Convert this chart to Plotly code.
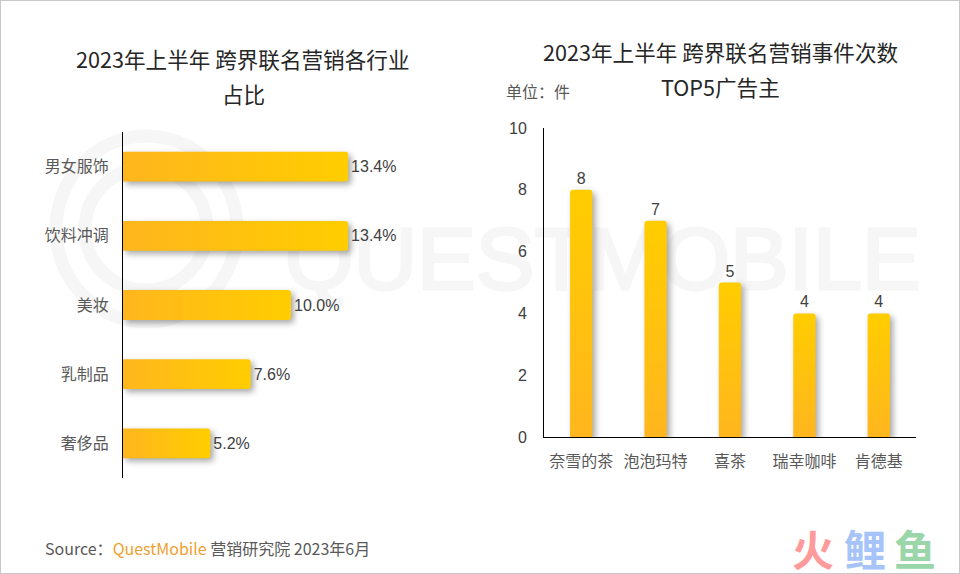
import plotly.graph_objects as go

# left chart
industries = ["男女服饰", "饮料冲调", "美妆", "乳制品", "奢侈品"]
industry_share = [13.4, 13.4, 10.0, 7.6, 5.2]
industry_labels = ["13.4%", "13.4%", "10.0%", "7.6%", "5.2%"]

# right chart
advertisers = ["奈雪的茶", "泡泡玛特", "喜茶", "瑞幸咖啡", "肯德基"]
event_counts = [8, 7, 5, 4, 4]
count_ticks = [0, 2, 4, 6, 8, 10]

CJK = "Noto Sans CJK SC"
LATIN = "Liberation Sans"
W, H = 960, 574


def px_x(x):
    return x / W


def px_y(y):
    return 1 - y / H


fig = go.Figure()

fig.add_trace(go.Bar(
    x=industry_share, y=industries, orientation="h", xaxis="x", yaxis="y",
    width=0.43, marker=dict(color="#ffc010", line_width=0),
    text=industry_labels, textposition="outside", cliponaxis=False,
    textfont=dict(family=LATIN, size=16, color="#404040"),
))
fig.add_trace(go.Bar(
    x=advertisers, y=event_counts, xaxis="x2", yaxis="y2",
    width=0.3, marker=dict(color="#ffc010", line_width=0),
    text=event_counts, textposition="outside", cliponaxis=False,
    textfont=dict(family=LATIN, size=16, color="#404040"),
))

notes = [
    dict(text="QUESTMOBILE", x=px_x(603), y=px_y(258), xanchor="center", yanchor="middle",
         font=dict(family=LATIN, size=88, color="#f6f6f6")),
    dict(text="2023年上半年 跨界联名营销各行业", x=px_x(243), y=px_y(58), xanchor="center", yanchor="middle",
         font=dict(family=CJK, size=21.6, color="#262626")),
    dict(text="占比", x=px_x(243), y=px_y(94), xanchor="center", yanchor="middle",
         font=dict(family=CJK, size=21.6, color="#262626")),
    dict(text="2023年上半年 跨界联名营销事件次数", x=px_x(720), y=px_y(51), xanchor="center", yanchor="middle",
         font=dict(family=CJK, size=21.6, color="#262626")),
    dict(text="TOP5广告主", x=px_x(720), y=px_y(87), xanchor="center", yanchor="middle",
         font=dict(family=CJK, size=21.6, color="#262626")),
    dict(text="单位：件", x=px_x(504), y=px_y(91), xanchor="left", yanchor="middle",
         font=dict(family=CJK, size=16, color="#595959")),
    dict(text='Source：<span style="color:#f0a030">QuestMobile</span> 营销研究院 2023年6月',
         x=px_x(43), y=px_y(548), xanchor="left", yanchor="middle",
         font=dict(family=CJK, size=16, color="#595959")),
    dict(text="<b>火</b>", x=px_x(813), y=px_y(547), xanchor="center", yanchor="middle",
         font=dict(family=CJK, size=42, color="#ff9a9a")),
    dict(text="<b>鲤</b>", x=px_x(865), y=px_y(547), xanchor="center", yanchor="middle",
         font=dict(family=CJK, size=42, color="#a6c3fa")),
    dict(text="<b>鱼</b>", x=px_x(915), y=px_y(547), xanchor="center", yanchor="middle",
         font=dict(family=CJK, size=42, color="#9bd6ab")),
]
for n in notes:
    n.update(xref="paper", yref="paper", showarrow=False)

# watermark rings and picture border
shapes = [
    dict(type="circle", xref="paper", yref="paper", layer="below",
         x0=px_x(85), x1=px_x(207), y0=px_y(290), y1=px_y(168),
         line=dict(color="#f6f6f6", width=13)),
    dict(type="circle", xref="paper", yref="paper", layer="below",
         x0=px_x(56), x1=px_x(237), y0=px_y(322), y1=px_y(136),
         line=dict(color="#f6f6f6", width=13)),
    dict(type="rect", xref="paper", yref="paper", layer="above",
         x0=0, x1=1, y0=0, y1=1, line=dict(color="#c8c8c8", width=2)),
]

fig.update_layout(
    width=W, height=H, margin=dict(l=0, r=0, t=0, b=0, pad=0, autoexpand=False),
    paper_bgcolor="white", plot_bgcolor="rgba(0,0,0,0)", showlegend=False,
    barcornerradius=3, annotations=notes, shapes=shapes,
    font=dict(family=CJK, size=16, color="#595959"),
    xaxis=dict(domain=[px_x(123), px_x(123 + 16.8 * 16)], range=[0, 16], visible=False),
    yaxis=dict(domain=[px_y(478), px_y(132)], anchor="x", autorange="reversed",
               type="category", showline=True, linecolor="#000000", linewidth=1,
               showgrid=False, ticks="", ticklabelstandoff=10, zeroline=False,
               tickfont=dict(family=CJK, size=16, color="#595959")),
    xaxis2=dict(domain=[px_x(544), px_x(916)], anchor="y2", type="category",
                showline=True, linecolor="#000000", linewidth=1, ticks="", showgrid=False,
                tickfont=dict(family=CJK, size=16, color="#595959"), ticklabelstandoff=10),
    yaxis2=dict(domain=[px_y(437), px_y(128)], anchor="x2", range=[0, 10], tickvals=count_ticks,
                showline=True, linecolor="#000000", linewidth=1, showgrid=False, zeroline=False,
                ticks="", ticklabelstandoff=13,
                tickfont=dict(family=LATIN, size=16, color="#404040")),
)

# gradient and soft shadow on the bars, plotly has no option for these
# the big watermark text gets moved under the bars as well
POST = """
document.body.style.margin = '0';
var svg = document.querySelector('.main-svg');
var ns = 'http://www.w3.org/2000/svg';
var defs = svg.querySelector('defs');
function grad(id, x2, y2, c0, c1) {
  var g = document.createElementNS(ns, 'linearGradient');
  g.setAttribute('id', id);
  g.setAttribute('x1', '0'); g.setAttribute('y1', '0');
  g.setAttribute('x2', x2); g.setAttribute('y2', y2);
  [[0, c0], [1, c1]].forEach(function (s) {
    var st = document.createElementNS(ns, 'stop');
    st.setAttribute('offset', s[0]);
    st.setAttribute('stop-color', s[1]);
    g.appendChild(st);
  });
  defs.appendChild(g);
}
grad('barH', '1', '0', '#ffb61e', '#ffcd00');
grad('barV', '0', '1', '#ffcd00', '#ffb61e');
var traces = document.querySelectorAll('.barlayer .trace');
traces.forEach(function (t, i) {
  t.querySelectorAll('.point path').forEach(function (p) {
    p.style.fill = 'url(#' + (i === 0 ? 'barH' : 'barV') + ')';
    p.style.filter = 'drop-shadow(3px 3px 3px rgba(0,0,0,0.35))';
  });
});
var cart = document.querySelector('.cartesianlayer');
document.querySelectorAll('.annotation').forEach(function (a) {
  if (a.textContent === 'QUESTMOBILE') {
    var tx = a.querySelector('text');
    tx.style.stroke = '#f6f6f6';
    tx.style.strokeWidth = '3px';
    cart.parentNode.insertBefore(a, cart);
  }
});
"""

fig.write_html("out.html", config={"displayModeBar": False}, post_script=POST)
